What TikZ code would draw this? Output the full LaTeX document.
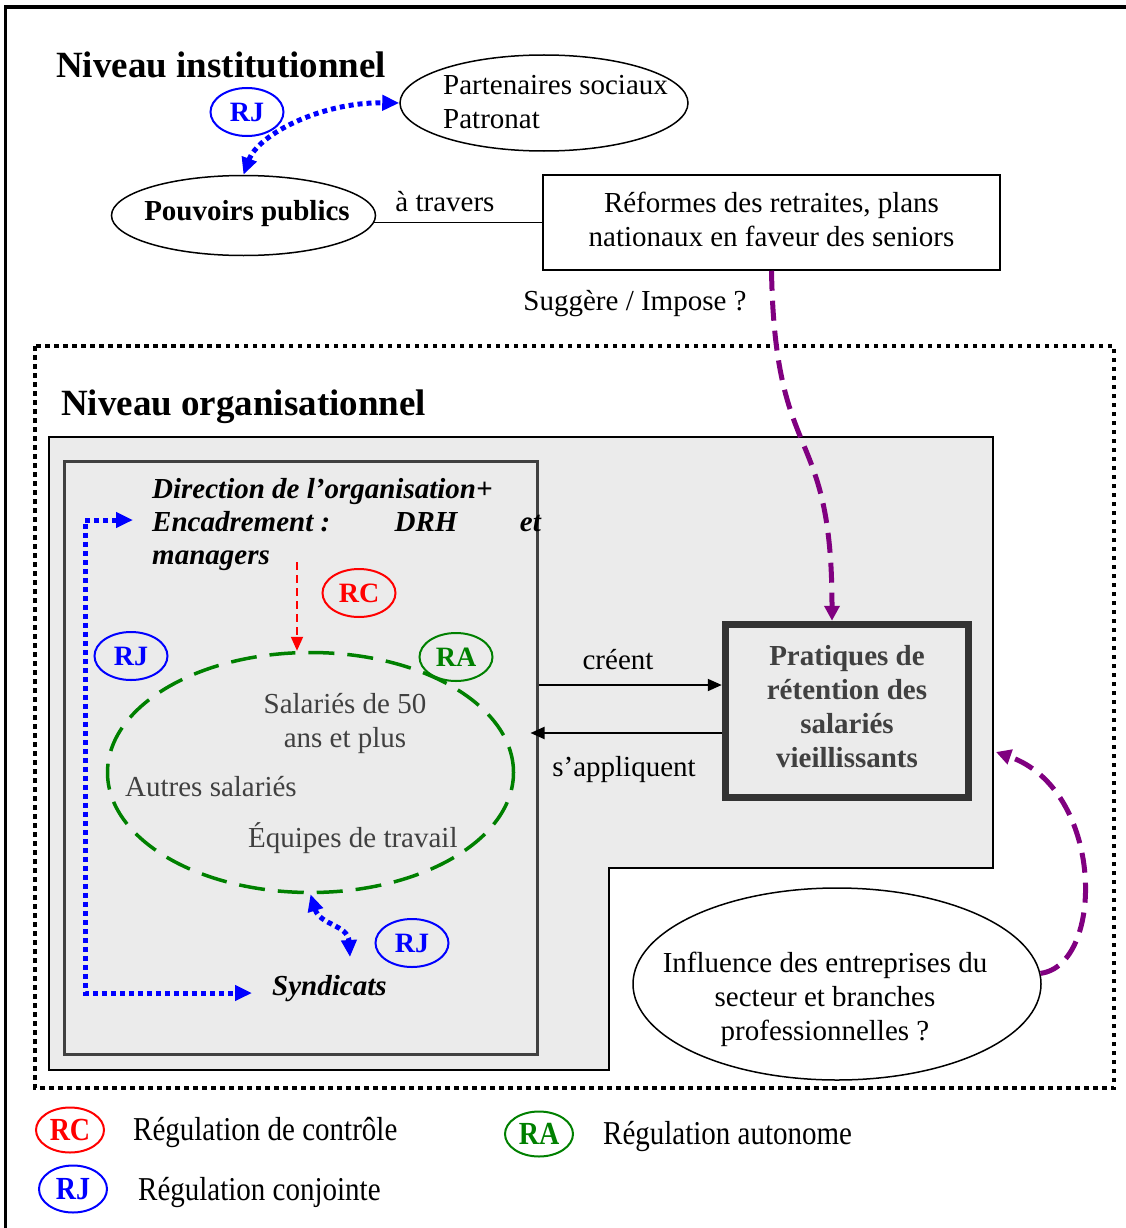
\documentclass[tikz,border=0pt]{standalone}
\usepackage{fontspec}
\setmainfont{Liberation Serif}
\usepackage{graphicx}
\usetikzlibrary{arrows.meta,shapes.geometric}

\definecolor{panelgray}{HTML}{EBEBEB}
\definecolor{darkink}{HTML}{404040}
\definecolor{frameink}{HTML}{333333}
\definecolor{ragreen}{RGB}{0,128,0}
\definecolor{rjblue}{RGB}{0,0,255}
\definecolor{rcred}{RGB}{255,0,0}
\definecolor{flowpurple}{RGB}{128,0,128}

\begin{document}
\begin{tikzpicture}[x=1pt, y=-1pt,
  lbl/.style={inner sep=0pt, font=\fontsize{29}{34}\selectfont},
  lblb/.style={inner sep=0pt, font=\bfseries\fontsize{29}{34}\selectfont},
  lblbi/.style={inner sep=0pt, font=\bfseries\itshape\fontsize{29}{34}\selectfont},
  level/.style={inner sep=0pt, anchor=base west, font=\bfseries\fontsize{37}{40}\selectfont},
  oval/.style={ellipse, draw, line width=1.5pt, inner sep=0pt},
  tag/.style={ellipse, draw=#1, text=#1, line width=2pt, minimum width=73pt, minimum height=48pt, inner sep=0pt, font=\bfseries\fontsize{28}{28}\selectfont},
  keytag/.style={tag=#1, minimum width=68pt, minimum height=45pt},
  rjdots/.style={rjblue, line width=5pt, dash pattern=on 5pt off 4pt, >={Triangle[length=17pt,width=15pt]}, <->},
  pdash/.style={flowpurple, line width=5pt, dash pattern=on 20pt off 10pt, -{Triangle[length=15pt,width=15pt]}},
  flow/.style={line width=2pt, -{Triangle[length=14pt,width=12pt]}}
]
\useasboundingbox (0,0) rectangle (1126,1228);

% outer frame
\draw[line width=3.5pt] (5.5,1228) -- (5.5,7) -- (1126,7);

% ---------- institutional level ----------
\node[level] (inst) at (56,78) {Niveau institutionnel};
\node[oval, minimum width=288pt, minimum height=96pt] (part) at (544,103) {};
\node[lbl, anchor=west, align=left] (parttxt) at (443,102) {Partenaires sociaux\\Patronat};
\node[oval, minimum width=264pt, minimum height=80pt] (pp) at (243.5,215.5) {};
\node[lblb] (pptxt) at (247,214) {Pouvoirs publics};
\node[draw, line width=1.5pt, minimum width=457pt, minimum height=95pt, inner sep=0pt] (ref) at (771.5,222.5) {};
\node[lbl, align=center] (reftxt) at (771.5,219.5) {Réformes des retraites, plans\\nationaux en faveur des seniors};
\draw[line width=1.5pt] (pp.357) -- (pp.357 -| ref.west);
\node[lbl, anchor=base] (through) at (445,211) {à travers};
\node[tag=rjblue] (rj1) at (247,112) {RJ};
\draw[rjdots] (pp.north) .. controls (258,135) and (320,102) .. (part.west);
\node[lbl, anchor=base] (sugg) at (635,310) {Suggère / Impose ?};

% ---------- organisational level ----------
\draw[line width=4.5pt, dash pattern=on 4.5pt off 4.5pt] (35,346) rectangle (1114,1088);
\node[level] (org) at (61,415) {Niveau organisationnel};
\draw[line width=2pt, fill=panelgray] (49,437) -- (993,437) -- (993,868) -- (609,868) -- (609,1070) -- (49,1070) -- cycle;
\node[draw=darkink, line width=3pt, minimum width=473pt, minimum height=593pt, inner sep=0pt] (orgbox) at (300.5,757.5) {};

\node[lblbi, anchor=base west] (dir1) at (152,498) {Direction de l’organisation+};
\node[lblbi, anchor=base west] (dir2) at (152,531) {Encadrement :};
\node[lblbi, anchor=base] (drh) at (426,531) {DRH};
\node[lblbi, anchor=base east] (et) at (541,531) {et};
\node[lblbi, anchor=base west] (dir3) at (152,564) {managers};

\node[tag=rcred] (rc) at (359,593) {RC};
\node[tag=rjblue] (rj2) at (131,656) {RJ};

\node[ellipse, draw=ragreen, line width=3.5pt, dash pattern=on 26pt off 13pt, minimum width=406pt, minimum height=240pt, inner sep=0pt] (grp) at (310.5,772.5) {};
\node[tag=ragreen] (ra) at (456,657) {RA};
\node[lbl, text=darkink, align=center] (s50) at (345,723) {Salariés de 50\\ans et plus};
\node[lbl, text=darkink, anchor=base west] (autres) at (125,796) {Autres salariés};
\node[lbl, text=darkink, anchor=base west] (equipes) at (248,847) {Équipes de travail};

\coordinate (rcfrom) at (297,562);
\draw[rcred, line width=2pt, dash pattern=on 8pt off 5pt, -{Triangle[length=14pt,width=12pt]}] (rcfrom) -- (rcfrom |- grp.north);

\coordinate (jtop) at (133,520);
\coordinate (jbot) at (252,993);
\draw[rjdots] (jtop) -| (85,993) -- (jbot);

\node[lblbi, anchor=base west] (syn) at (272,995) {Syndicats};
\node[tag=rjblue] (rj3) at (412,943) {RJ};
\coordinate (syntop) at (350,957);
\draw[rjdots] (grp.south) .. controls (320,925) and (348,925) .. (syntop);

\node[draw=frameink, line width=7.5pt, fill=panelgray, minimum width=243pt, minimum height=173pt, inner sep=0pt] (prat) at (847,711) {};
\node[lblb, text=darkink, align=center] (prattxt) at (847,707)
  {Pratiques de\\rétention des\\salariés\\vieillissants};

\draw[flow] (orgbox.east |- 0,685) -- (prat.west |- 0,685);
\node[lbl, anchor=base] (creent) at (618,669) {créent};
\draw[flow, shorten >=-8pt] (prat.west |- 0,733) -- (orgbox.east |- 0,733);
\node[lbl, anchor=base] (appl) at (624,776) {s’appliquent};

\node[oval, minimum width=408pt, minimum height=192pt] (infl) at (837,984) {};
\node[lbl, align=center] (infltxt) at (825,999) {Influence des entreprises du\\secteur et branches\\professionnelles ?};

% influences on retention practices
\draw[pdash] (ref.south) .. controls (775,470) and (832,420) .. ([xshift=-15pt]prat.north);
\coordinate (infltip) at (996,752);
\draw[pdash] (infl.3) .. controls (1105,965) and (1105,790) .. (infltip);

% ---------- key ----------
\node[keytag=rcred] (krc) at (70,1130) {\scalebox{1}[1.15]{RC}};
\node[lbl, anchor=base west] (krctxt) at (133,1140) {\scalebox{1}[1.15]{Régulation de contrôle}};
\node[keytag=rjblue, minimum height=47pt] (krj) at (73,1189) {\scalebox{1}[1.15]{RJ}};
\node[lbl, anchor=base west] (krjtxt) at (138,1200) {\scalebox{1}[1.15]{Régulation conjointe}};
\node[keytag=ragreen] (kra) at (539,1134) {\scalebox{1}[1.15]{RA}};
\node[lbl, anchor=base west] (kratxt) at (603,1144) {\scalebox{1}[1.15]{Régulation autonome}};
\end{tikzpicture}
\end{document}
